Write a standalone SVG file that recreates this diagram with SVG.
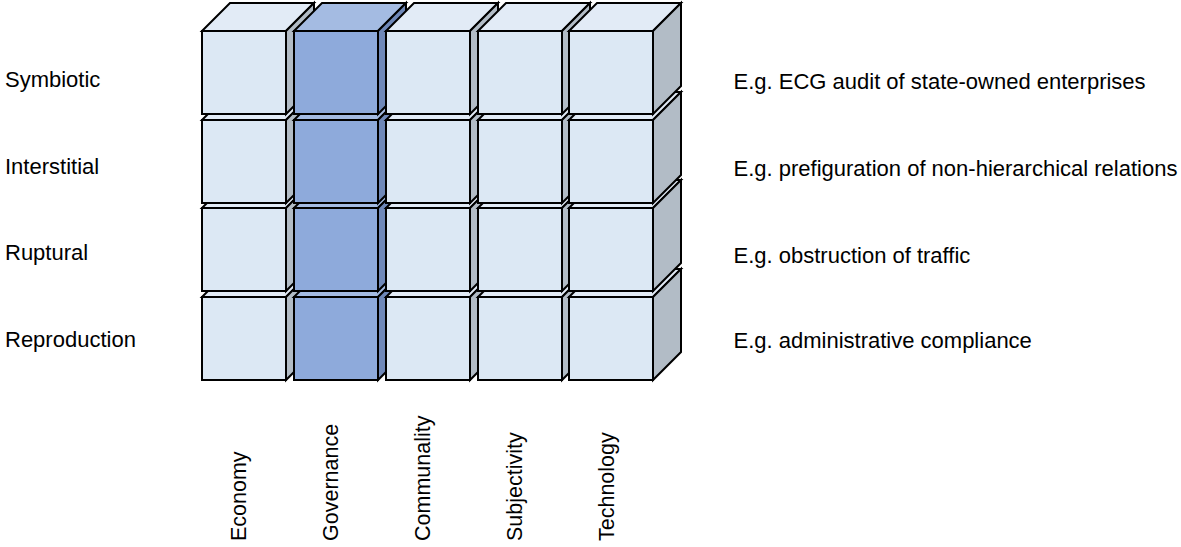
<svg xmlns="http://www.w3.org/2000/svg" width="1181" height="547" viewBox="0 0 1181 547">
  <style>
    .lbl { font-family: "Liberation Sans", Arial, sans-serif; font-size: 22px; fill: #000; }
    .vlbl { font-size: 21.5px; }
    .cube { stroke: #000; stroke-width: 2; stroke-linejoin: miter; }
    .plain { --front: #dce8f4; --top: #e2ebf6; --side: #b2bcc6; }
    .gov { --front: #8eaadb; --top: #a4bbe2; --side: #6f88b8; }
    .face-top { fill: var(--top); }
    .face-side { fill: var(--side); }
    .face-front { fill: var(--front); }
  </style>
  <defs>
    <!-- one cube: front face 84x83, depth offset 28 up-right -->
    <g id="cubeShape">
      <polygon class="face-top" points="0,0 28,-28 112,-28 84,0"/>
      <polygon class="face-side" points="84,0 112,-28 112,55 84,83"/>
      <polygon class="face-front" points="0,0 84,0 84,83 0,83"/>
    </g>
  </defs>

  <!-- cube grid: rows drawn bottom to top, columns left to right -->
  <g id="grid">
    <!-- Reproduction row -->
    <g id="cube-reproduction-economy" class="cube plain"><use href="#cubeShape" x="202" y="297"/></g>
    <g id="cube-reproduction-governance" class="cube gov"><use href="#cubeShape" x="294" y="297"/></g>
    <g id="cube-reproduction-communality" class="cube plain"><use href="#cubeShape" x="386" y="297"/></g>
    <g id="cube-reproduction-subjectivity" class="cube plain"><use href="#cubeShape" x="478" y="297"/></g>
    <g id="cube-reproduction-technology" class="cube plain"><use href="#cubeShape" x="569" y="297"/></g>
    <!-- Ruptural row -->
    <g id="cube-ruptural-economy" class="cube plain"><use href="#cubeShape" x="202" y="208"/></g>
    <g id="cube-ruptural-governance" class="cube gov"><use href="#cubeShape" x="294" y="208"/></g>
    <g id="cube-ruptural-communality" class="cube plain"><use href="#cubeShape" x="386" y="208"/></g>
    <g id="cube-ruptural-subjectivity" class="cube plain"><use href="#cubeShape" x="478" y="208"/></g>
    <g id="cube-ruptural-technology" class="cube plain"><use href="#cubeShape" x="569" y="208"/></g>
    <!-- Interstitial row -->
    <g id="cube-interstitial-economy" class="cube plain"><use href="#cubeShape" x="202" y="120"/></g>
    <g id="cube-interstitial-governance" class="cube gov"><use href="#cubeShape" x="294" y="120"/></g>
    <g id="cube-interstitial-communality" class="cube plain"><use href="#cubeShape" x="386" y="120"/></g>
    <g id="cube-interstitial-subjectivity" class="cube plain"><use href="#cubeShape" x="478" y="120"/></g>
    <g id="cube-interstitial-technology" class="cube plain"><use href="#cubeShape" x="569" y="120"/></g>
    <!-- Symbiotic row -->
    <g id="cube-symbiotic-economy" class="cube plain"><use href="#cubeShape" x="202" y="31"/></g>
    <g id="cube-symbiotic-governance" class="cube gov"><use href="#cubeShape" x="294" y="31"/></g>
    <g id="cube-symbiotic-communality" class="cube plain"><use href="#cubeShape" x="386" y="31"/></g>
    <g id="cube-symbiotic-subjectivity" class="cube plain"><use href="#cubeShape" x="478" y="31"/></g>
    <g id="cube-symbiotic-technology" class="cube plain"><use href="#cubeShape" x="569" y="31"/></g>
  </g>

  <!-- row labels -->
  <g id="row-labels" class="lbl">
    <text x="5" y="87">Symbiotic</text>
    <text x="5" y="174">Interstitial</text>
    <text x="5" y="260">Ruptural</text>
    <text x="5" y="347">Reproduction</text>
  </g>

  <!-- examples -->
  <g id="examples" class="lbl">
    <text x="733.5" y="89">E.g. ECG audit of state-owned enterprises</text>
    <text x="733.5" y="176">E.g. prefiguration of non-hierarchical relations</text>
    <text x="733.5" y="263">E.g. obstruction of traffic</text>
    <text x="733.5" y="348">E.g. administrative compliance</text>
  </g>

  <!-- column labels -->
  <g id="column-labels" class="lbl vlbl">
    <text transform="translate(246,541) rotate(-90)">Economy</text>
    <text transform="translate(337.5,541) rotate(-90)">Governance</text>
    <text transform="translate(429.5,541) rotate(-90)">Communality</text>
    <text transform="translate(521.5,541) rotate(-90)">Subjectivity</text>
    <text transform="translate(614,541) rotate(-90)">Technology</text>
  </g>

  <!-- no connectors in this diagram -->
  <g id="connectors"/>
</svg>
